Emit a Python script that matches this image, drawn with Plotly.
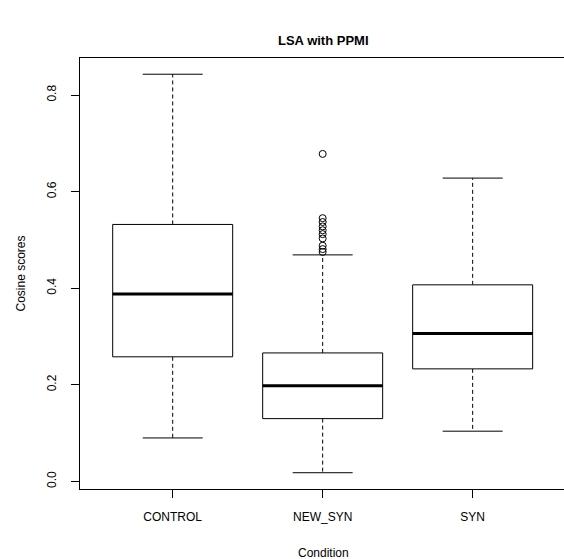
import plotly.graph_objects as go

categories = ["CONTROL", "NEW_SYN", "SYN"]
lower_whisker = [0.090, 0.018, 0.104]
q1 = [0.258, 0.130, 0.233]
median = [0.388, 0.198, 0.306]
q3 = [0.532, 0.266, 0.407]
upper_whisker = [0.843, 0.469, 0.628]
outlier_cat = ["NEW_SYN"] * 10
outlier_vals = [0.678, 0.545, 0.537, 0.528, 0.520, 0.512, 0.503, 0.488, 0.481, 0.475]
y_ticks = [0.0, 0.2, 0.4, 0.6, 0.8]

FONT = "Liberation Sans, Arial, Helvetica, sans-serif"
BOXW = 0.4
STAPLE = 0.2
W, H = 564, 559
ML, MR, MT, MB = 80, 0, 58, 70
PW, PH = W - ML - MR, H - MT - MB

fig = go.Figure()
pos = {c: i + 1 for i, c in enumerate(categories)}
for c, lw, a, m, b, uw in zip(categories, lower_whisker, q1, median, q3, upper_whisker):
    i = pos[c]
    fig.add_trace(go.Scatter(x=[i, i, None, i, i], y=[b, uw, None, a, lw], mode="lines",
                             line=dict(color="black", width=1, dash="4px,3px"),
                             hoverinfo="skip", showlegend=False))
    fig.add_trace(go.Scatter(x=[i - STAPLE, i + STAPLE, None, i - STAPLE, i + STAPLE],
                             y=[uw, uw, None, lw, lw], mode="lines",
                             line=dict(color="black", width=1),
                             hoverinfo="skip", showlegend=False))
    fig.add_trace(go.Scatter(x=[i - BOXW, i + BOXW, i + BOXW, i - BOXW, i - BOXW],
                             y=[a, a, b, b, a], mode="lines", fill="toself",
                             fillcolor="white", line=dict(color="black", width=1),
                             hoverinfo="skip", showlegend=False))
    fig.add_trace(go.Scatter(x=[i - BOXW, i + BOXW], y=[m, m], mode="lines",
                             line=dict(color="black", width=3),
                             hoverinfo="skip", showlegend=False))

fig.add_trace(go.Scatter(x=[pos[c] for c in outlier_cat], y=outlier_vals, mode="markers",
                         marker=dict(symbol="circle-open", size=7, color="black",
                                     line=dict(width=1, color="black")),
                         hoverinfo="skip", showlegend=False))

cx = (323 - ML) / PW
fig.update_layout(
    width=W, height=H,
    margin=dict(l=ML, r=MR, t=MT, b=MB, autoexpand=False),
    plot_bgcolor="white", paper_bgcolor="white",
    font=dict(family=FONT, size=12, color="black"),
    xaxis=dict(range=[0.382, 3.609], tickvals=[1, 2, 3], ticktext=categories,
               showgrid=False, zeroline=False, showline=True, mirror=True,
               linecolor="black", linewidth=1, ticks="outside", ticklen=8,
               tickcolor="black", ticklabelstandoff=9, tickfont=dict(size=12)),
    yaxis=dict(range=[-0.0157, 0.8766], tickvals=y_ticks,
               ticktext=[f"{v:.1f}" for v in y_ticks], tickangle=-90,
               showgrid=False, zeroline=False, showline=True, mirror=False,
               linecolor="black", linewidth=1, ticks="outside", ticklen=8,
               tickcolor="black", ticklabelstandoff=10, tickfont=dict(size=12)),
    annotations=[
        dict(text="<b>LSA with PPMI</b>", x=cx, y=1 + (MT - 40) / PH, xref="paper", yref="paper",
             xanchor="center", yanchor="middle", showarrow=False, font=dict(size=13)),
        dict(text="Condition", x=cx, y=-(553 - (H - MB)) / PH, xref="paper", yref="paper",
             xanchor="center", yanchor="middle", showarrow=False, font=dict(size=12)),
        dict(text="Cosine scores", x=-(ML - 20) / PW, y=0.5, xref="paper", yref="paper",
             xanchor="center", yanchor="middle", textangle=-90, showarrow=False,
             font=dict(size=12)),
    ],
)
fig.write_html("out.html", config={"displayModeBar": False, "staticPlot": True},
               post_script="document.body.style.margin='0';document.body.style.overflow='hidden';")
